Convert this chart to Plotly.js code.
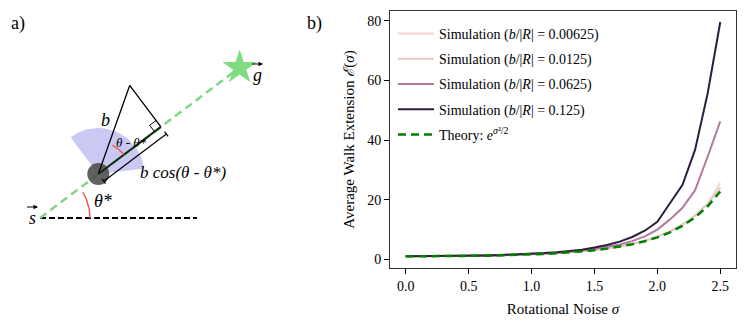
<!DOCTYPE html>
<html>
<head>
<meta charset="utf-8">
<script src="https://cdn.plot.ly/plotly-3.0.1.min.js"></script>
<style>
  body { margin: 0; padding: 0; background: #fff; }
  #chart { width: 747px; height: 326px; }
</style>
</head>
<body>
<div id="chart"></div>
<script>
// values
var sigma = [0.0, 0.1, 0.2, 0.3, 0.4, 0.5, 0.6, 0.7, 0.8, 0.9, 1.0, 1.1, 1.2,
    1.3, 1.4, 1.5, 1.6, 1.7, 1.8, 1.9, 2.0, 2.1, 2.2, 2.3, 2.4, 2.5];
var sim00625 = [1, 1.005, 1.02, 1.047, 1.085, 1.136, 1.2, 1.283, 1.384, 1.508, 1.66,
    1.845, 2.072, 2.352, 2.697, 3.12, 3.65, 4.31, 5.14, 6.2, 7.56, 9.3, 11.6, 14.6, 18.6, 25.6];
var sim0125 = [1, 1.005, 1.02, 1.047, 1.085, 1.136, 1.2, 1.283, 1.385, 1.51, 1.663,
    1.85, 2.08, 2.36, 2.71, 3.14, 3.67, 4.34, 5.18, 6.25, 7.62, 9.4, 11.7, 14.7, 18.7, 24.0];
var sim0625 = [1, 1.006, 1.025, 1.055, 1.1, 1.155, 1.225, 1.315, 1.43, 1.57, 1.75,
    1.96, 2.23, 2.56, 2.97, 3.5, 4.15, 5.0, 6.1, 7.7, 10.0, 13.4, 17.3, 23.2, 34.5, 46.3];
var sim125 = [1, 1.008, 1.03, 1.07, 1.12, 1.19, 1.27, 1.37, 1.5, 1.66, 1.86,
    2.1, 2.4, 2.78, 3.25, 3.95, 4.8, 5.95, 7.5, 9.6, 12.6, 18.8, 25.0, 36.8, 55.7, 79.6];
var theory = [1, 1.005, 1.020, 1.046, 1.083, 1.133, 1.197, 1.278, 1.377, 1.499, 1.649,
    1.831, 2.054, 2.328, 2.664, 3.080, 3.597, 4.242, 5.053, 6.081, 7.389, 9.070, 11.25, 14.08, 17.81, 22.76];

var ratios = ["0.00625", "0.0125", "0.0625", "0.125"];
var simSeries = [sim00625, sim0125, sim0625, sim125];
var simColors = ["#efd5cf", "#eac5c4", "#b27a9e", "#2e1e3b"];

var serif = "Liberation Serif";
var W = 747, H = 326;

var data = [];
simSeries.forEach(function (ys, i) {
    data.push({
        x: sigma, y: ys, type: "scatter", mode: "lines",
        name: "Simulation (<i>b</i>/|<i>R</i>| = " + ratios[i] + ")",
        legendgroup: "g" + i,
        line: {color: simColors[i], width: 2},
        xaxis: "x", yaxis: "y"
    });
});
data.push({
    x: sigma, y: theory, type: "scatter", mode: "lines",
    name: "Theory: <i>e</i><sup><i>\u03C3</i>\u00B2/2</sup>", legendgroup: "g4",
    line: {color: "#008000", width: 2.5, dash: "8px,5px"},
    xaxis: "x", yaxis: "y"
});

// ---- panel a) diagram, drawn on a hidden axis that maps 1:1 to pixels
function pt(o, deg, r) {
    var a = deg * Math.PI / 180;
    return [o[0] + r * Math.cos(a), o[1] - r * Math.sin(a)];
}
function arc(o, a0, a1, r, n) {
    var out = [];
    for (var i = 0; i <= n; i++) out.push(pt(o, a0 + (a1 - a0) * i / n, r));
    return out;
}
function diag(points, line, extra) {
    var t = {
        x: points.map(function (p) { return p[0]; }),
        y: points.map(function (p) { return p[1]; }),
        type: "scatter", mode: "lines", line: line,
        xaxis: "x2", yaxis: "y2", showlegend: false, hoverinfo: "skip"
    };
    for (var k in extra) t[k] = extra[k];
    return t;
}

var start = [40, 218];
var thetaStar = 37;
var agent = pt(start, thetaStar, 73);
var goal = pt(start, thetaStar, 250);
var theta = 70.5;
var bLen = 94;
var apex = pt(agent, theta, bLen);
var proj = bLen * Math.cos((theta - thetaStar) * Math.PI / 180);
var foot = pt(agent, thetaStar, proj);

var wedge = [agent].concat(arc(agent, 7, 127, 46, 40)).concat([agent]);
data.push(diag(wedge, {width: 0, color: "#c9c9f4"}, {fill: "toself", fillcolor: "#c9c9f4"}));
data.push(diag([start, [197, 218]], {color: "#000", width: 2, dash: "6px,3px"}));
data.push(diag([start, goal], {color: "#80d880", width: 2.5, dash: "8px,5px"}));
data.push({
    x: [agent[0]], y: [agent[1]], type: "scatter", mode: "markers",
    marker: {size: 22, color: "rgba(75,75,75,0.88)"},
    xaxis: "x2", yaxis: "y2", showlegend: false, hoverinfo: "skip"
});
data.push(diag([agent, apex, foot], {color: "#000", width: 1.3}));
data.push(diag([agent, foot], {color: "#0d2a0d", width: 2}));
// right angle marker
var sq1 = pt(foot, thetaStar + 180, 8);
var sq2 = pt(sq1, thetaStar + 90, 8);
var sq3 = pt(foot, thetaStar + 90, 8);
data.push(diag([sq1, sq2, sq3], {color: "#000", width: 1}));
// dimension line with end caps
var d0 = pt(agent, thetaStar - 90, 9);
var d1 = pt(foot, thetaStar - 90, 9);
data.push(diag([d0, d1], {color: "#000", width: 1.2}));
data.push(diag([pt(d0, thetaStar + 90, 3), pt(d0, thetaStar - 90, 3)], {color: "#000", width: 1.2}));
data.push(diag([pt(d1, thetaStar + 90, 3), pt(d1, thetaStar - 90, 3)], {color: "#000", width: 1.2}));
// red angle arcs
var red = "#f05a5a";
var arc1 = arc(agent, thetaStar, 64, 32, 20);
var arc2 = arc(start, 0, 31, 50, 20);
data.push(diag(arc1, {color: red, width: 1.5}));
data.push(diag(arc2, {color: red, width: 1.5}));
data.push({
    x: [goal[0]], y: [goal[1]], type: "scatter", mode: "markers",
    marker: {symbol: "star", size: 26, color: "#80dc80", line: {width: 0}},
    xaxis: "x2", yaxis: "y2", showlegend: false, hoverinfo: "skip"
});
// little vector arrows over s and g
data.push(diag([[27, 207], [37, 207]], {color: "#000", width: 1}));
data.push(diag([[252, 64], [262, 64]], {color: "#000", width: 1}));

function label(x, y, text, size) {
    return {
        x: x, y: y, xref: "x2", yref: "y2", text: text, showarrow: false,
        font: {family: serif, size: size, color: "#000"}
    };
}
function arrowAnn(tip, back, color, width, size) {
    return {
        x: tip[0], y: tip[1], ax: back[0], ay: back[1], xref: "x2", yref: "y2",
        axref: "x2", ayref: "y2", text: "", showarrow: true, arrowhead: 2,
        arrowsize: size, arrowwidth: width, arrowcolor: color, standoff: 0
    };
}
function head(a) {
    return arrowAnn(a[a.length - 1], a[a.length - 3], red, 1.5, 1.1);
}

var annotations = [
    head(arc1), head(arc2),
    arrowAnn([38, 207], [33, 207], "#000", 1, 0.9),
    arrowAnn([263, 64], [258, 64], "#000", 1, 0.9),
    label(105, 120, "<i>b</i>", 18),
    label(131, 142, "<i>\u03B8 - \u03B8*</i>", 13),
    label(183, 172, "<i>b cos(\u03B8 - \u03B8*)</i>", 17),
    label(103, 201, "<i>\u03B8*</i>", 18),
    label(32, 218, "<i>s</i>", 18),
    label(257, 75, "<i>g</i>", 18),
    {x: 9 / W, y: 1 - 11 / H, xref: "paper", yref: "paper", text: "a)", showarrow: false,
        font: {family: serif, size: 18, color: "#000"}},
    {x: 314 / W, y: 1 - 11 / H, xref: "paper", yref: "paper", text: "b)", showarrow: false,
        font: {family: serif, size: 18, color: "#000"}}
];

var layout = {
    width: W, height: H,
    margin: {l: 0, r: 0, t: 0, b: 0},
    paper_bgcolor: "#fff", plot_bgcolor: "#fff",
    font: {family: serif, size: 14, color: "#000"},
    showlegend: true,
    legend: {
        x: 393 / W, y: 1 - 18 / H, xanchor: "left", yanchor: "top",
        bgcolor: "rgba(0,0,0,0)", font: {family: serif, size: 14},
        tracegroupgap: 4, itemwidth: 36
    },
    xaxis: {
        domain: [390 / W, 736 / W], range: [-0.125, 2.625],
        tick0: 0, dtick: 0.5, tickformat: ".1f",
        ticks: "outside", ticklen: 5, tickcolor: "#000",
        showline: true, linecolor: "#333", linewidth: 1, mirror: true,
        showgrid: false, zeroline: false,
        tickfont: {size: 14},
        title: {text: "Rotational Noise <i>\u03C3</i>", font: {size: 15}, standoff: 10}
    },
    yaxis: {
        domain: [1 - 268 / H, 1 - 11 / H], range: [-2.9, 83.3],
        tick0: 0, dtick: 20,
        ticks: "outside", ticklen: 5, tickcolor: "#000",
        showline: true, linecolor: "#333", linewidth: 1, mirror: true,
        showgrid: false, zeroline: false,
        tickfont: {size: 14},
        title: {text: "Average Walk Extension <i>\u2130</i>(<i>\u03C3</i>)", font: {size: 15}, standoff: 8}
    },
    xaxis2: {domain: [0, 330 / W], range: [0, 330], visible: false, fixedrange: true},
    yaxis2: {domain: [0, 1], range: [326, 0], visible: false, fixedrange: true},
    annotations: annotations
};

Plotly.newPlot("chart", data, layout, {displayModeBar: false, staticPlot: true});
</script>
</body>
</html>
